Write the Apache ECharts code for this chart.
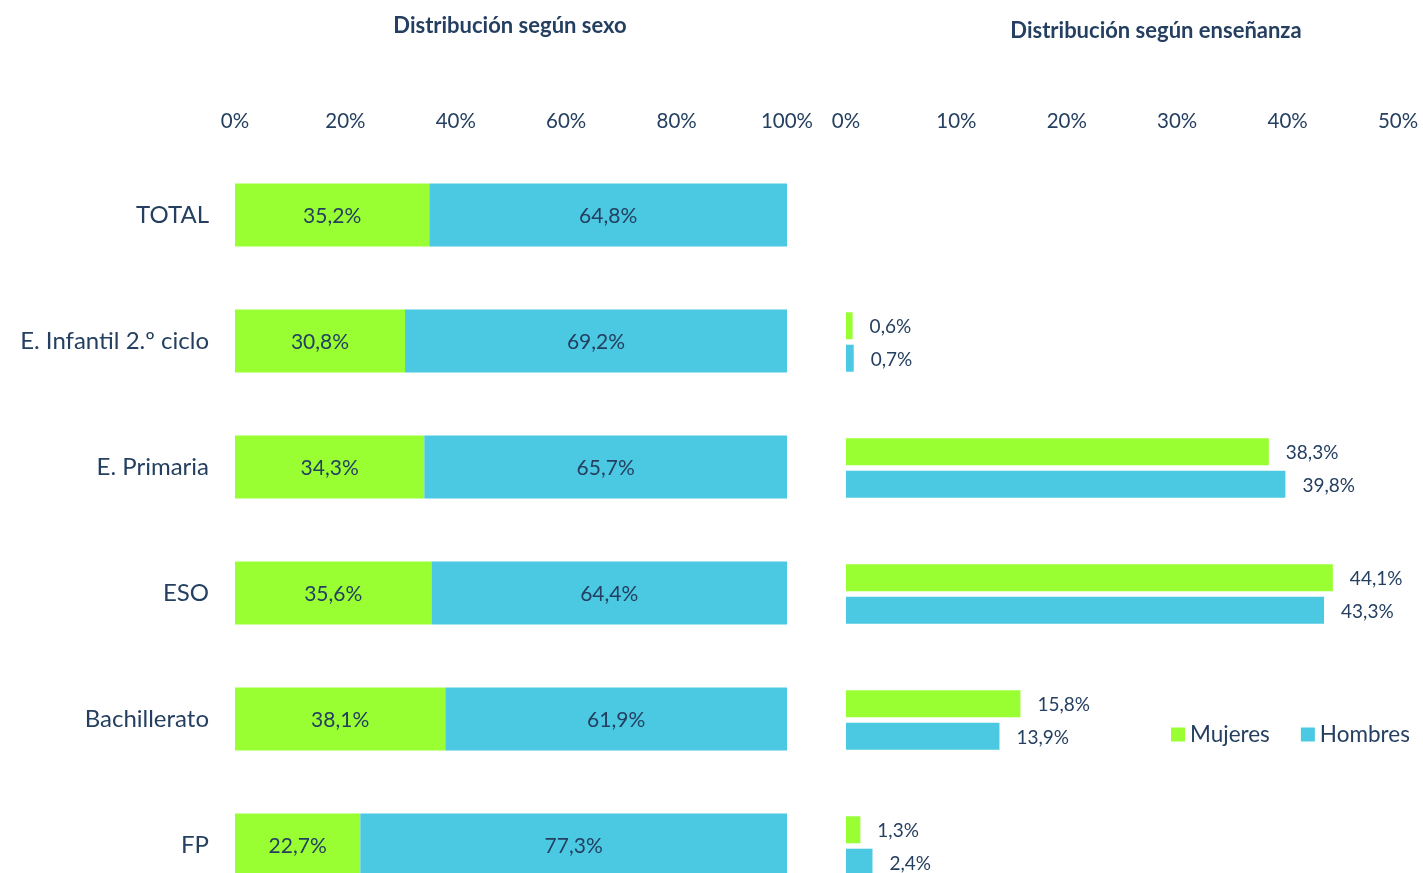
<!DOCTYPE html>
<html><head><meta charset="utf-8">
<script src="https://cdn.jsdelivr.net/npm/echarts@6/dist/echarts.min.js"></script>
<style>html,body{margin:0;padding:0;background:#fff;overflow:hidden}#c{width:1423px;height:912px}</style>
</head><body><div id="c"></div>
<script>
const categories = ['TOTAL', 'E. Infantil 2.º ciclo', 'E. Primaria', 'ESO', 'Bachillerato', 'FP'];
const sexoMujeres = [35.2, 30.8, 34.3, 35.6, 38.1, 22.7];
const sexoHombres = [64.8, 69.2, 65.7, 64.4, 61.9, 77.3];
const ensMujeres = [null, 0.6, 38.3, 44.1, 15.8, 1.3];
const ensHombres = [null, 0.7, 39.8, 43.3, 13.9, 2.4];
const leftTicks = [0, 20, 40, 60, 80, 100];
const rightTicks = [0, 10, 20, 30, 40, 50];

const GREEN = '#99FF33', BLUE = '#4BC9E2', TXT = '#243F60';
const FONT = 'Lato';
const fmt = v => (v == null ? '' : v.toFixed(1).replace('.', ',') + '%');

const chart = echarts.init(document.getElementById('c'));
const yCommon = {
  type: 'category', data: categories, inverse: true,
  axisLine: {show: false}, axisTick: {show: false}, splitLine: {show: false}
};
const xCommon = {
  type: 'value', position: 'top', min: 0,
  axisLine: {show: false}, axisTick: {show: false}, splitLine: {show: false},
  axisLabel: {color: TXT, fontSize: 20.5, fontFamily: FONT, margin: 20, formatter: v => v + '%'}
};
chart.setOption({
  animation: false,
  textStyle: {fontFamily: FONT},
  title: [
    {text: 'Distribución según sexo', left: 505, top: 10, textAlign: 'center',
     textStyle: {color: TXT, fontSize: 22, fontWeight: 'bold', fontFamily: FONT}},
    {text: 'Distribución según enseñanza', left: 1151, top: 15, textAlign: 'center',
     textStyle: {color: TXT, fontSize: 22, fontWeight: 'bold', fontFamily: FONT}}
  ],
  legend: {
    data: ['Mujeres', 'Hombres'], left: 1166, top: 718, itemWidth: 14, itemHeight: 14,
    itemGap: 31, icon: 'rect',
    textStyle: {color: TXT, fontSize: 22.5, fontFamily: FONT}
  },
  grid: [
    {left: 235, right: 636, top: 152, height: 756},
    {left: 846, right: 25, top: 153, height: 756}
  ],
  xAxis: [
    Object.assign({}, xCommon, {gridIndex: 0, max: 100, interval: 20}),
    Object.assign({}, xCommon, {gridIndex: 1, max: 50, interval: 10, axisLabel: Object.assign({}, xCommon.axisLabel, {margin: 21})})
  ],
  yAxis: [
    Object.assign({}, yCommon, {gridIndex: 0,
      axisLabel: {color: TXT, fontSize: 24, fontFamily: FONT, margin: 26, padding: [2, 0, 0, 0]}}),
    Object.assign({}, yCommon, {gridIndex: 1, axisLabel: {show: false}})
  ],
  series: [
    {name: 'Mujeres', type: 'bar', stack: 's', xAxisIndex: 0, yAxisIndex: 0, data: sexoMujeres,
     barWidth: 63, itemStyle: {color: GREEN},
     label: {show: true, position: 'inside', offset: [0, 1], color: TXT, fontSize: 21, fontFamily: FONT, formatter: p => fmt(p.value)}},
    {name: 'Hombres', type: 'bar', stack: 's', xAxisIndex: 0, yAxisIndex: 0, data: sexoHombres,
     barWidth: 63, itemStyle: {color: BLUE},
     label: {show: true, position: 'inside', offset: [0, 1], color: TXT, fontSize: 21, fontFamily: FONT, formatter: p => fmt(p.value)}},
    {name: 'Mujeres', type: 'bar', xAxisIndex: 1, yAxisIndex: 1, data: ensMujeres,
     barWidth: 27, barGap: '20%', itemStyle: {color: GREEN},
     label: {show: true, position: 'right', distance: 17, offset: [0, 1.5], color: TXT, fontSize: 19, fontFamily: FONT, formatter: p => fmt(p.value)}},
    {name: 'Hombres', type: 'bar', xAxisIndex: 1, yAxisIndex: 1, data: ensHombres,
     barWidth: 27, barGap: '20%', itemStyle: {color: BLUE},
     label: {show: true, position: 'right', distance: 17, offset: [0, 1.5], color: TXT, fontSize: 19, fontFamily: FONT, formatter: p => fmt(p.value)}}
  ]
});
</script></body></html>
